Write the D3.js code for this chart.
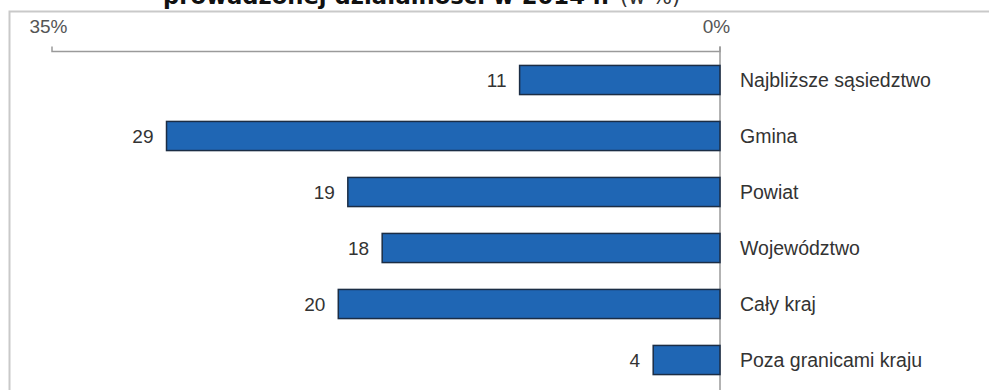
<!DOCTYPE html>
<html><head><meta charset="utf-8">
<script src="https://cdn.jsdelivr.net/npm/d3@7"></script>
<style>body{margin:0;background:#fff}svg{display:block}</style>
</head><body>
<svg id="c" width="989" height="390"></svg>
<script>
const categories = ["Najbliższe sąsiedztwo","Gmina","Powiat","Województwo","Cały kraj","Poza granicami kraju"];
const values = [10.5, 29.0, 19.5, 17.7, 20.0, 3.5];
const valueLabels = ["11","29","19","18","20","4"];
const tickValues = [35, 0];
const titleBold = "prowadzonej działalności w 2014 r.";
const titleNormal = "(w %)";

const svg = d3.select("#c");
const x = d3.scaleLinear().domain([35, 0]).range([52, 720]);
const y = d3.scaleBand().domain(categories).range([52, 388]).paddingInner(0.48).paddingOuter(0.24);

// title (cut off at top, as in the reference)
const t = svg.append("text").attr("x", 163).attr("y", 4)
  .attr("font-family", "DejaVu Sans, Verdana, sans-serif").attr("font-size", 22.7).attr("fill", "#111");
t.append("tspan").attr("font-weight", "bold").text(titleBold);
t.append("tspan").attr("x", 620).attr("font-weight", "normal").attr("font-size", 21).attr("fill", "#333").text(titleNormal);

// frame
svg.append("path").attr("d", "M9.5,390 V11.5 H989").attr("fill", "none").attr("stroke", "#c9c9c9").attr("stroke-width", 2);

// top axis
const axis = d3.axisTop(x).tickValues(tickValues).tickFormat(d => d + "%").tickSize(0).tickPadding(0);
const g = svg.append("g").attr("transform", "translate(0,51.5)").call(axis);
g.select(".domain").attr("stroke", "#9a9a9a").attr("stroke-width", 1.5).attr("fill", "none")
  .attr("d", `M${x(35)},-5 V0 H${x(0)} V-5`);
g.selectAll(".tick line").remove();
g.selectAll(".tick text").attr("font-family", "Liberation Sans, Arial, sans-serif").attr("font-size", 19)
  .attr("fill", "#555").attr("dx", -4).attr("y", -19).attr("dy", 0);

// vertical zero line
svg.append("line").attr("x1", x(0)).attr("x2", x(0)).attr("y1", 46.5).attr("y2", 390)
  .attr("stroke", "#9a9a9a").attr("stroke-width", 1.5);

// bars
svg.selectAll("rect.bar").data(categories).join("rect").attr("class", "bar")
  .attr("x", (d, i) => x(values[i]))
  .attr("width", (d, i) => x(0) - x(values[i]))
  .attr("y", d => y(d)).attr("height", y.bandwidth())
  .attr("fill", "#1f66b4").attr("stroke", "#1b2d45").attr("stroke-width", 1.5);

// value labels
svg.selectAll("text.val").data(categories).join("text").attr("class", "val")
  .attr("x", (d, i) => x(values[i]) - 13)
  .attr("y", d => y(d) + y.bandwidth() / 2).attr("dy", "0.36em")
  .attr("text-anchor", "end").attr("font-family", "Liberation Sans, Arial, sans-serif")
  .attr("font-size", 19).attr("fill", "#333").text((d, i) => valueLabels[i]);

// category labels
svg.selectAll("text.cat").data(categories).join("text").attr("class", "cat")
  .attr("x", x(0) + 20)
  .attr("y", d => y(d) + y.bandwidth() / 2).attr("dy", "0.36em")
  .attr("font-family", "Liberation Sans, Arial, sans-serif")
  .attr("font-size", 19.5).attr("fill", "#333").text(d => d);
</script>
</body></html>
